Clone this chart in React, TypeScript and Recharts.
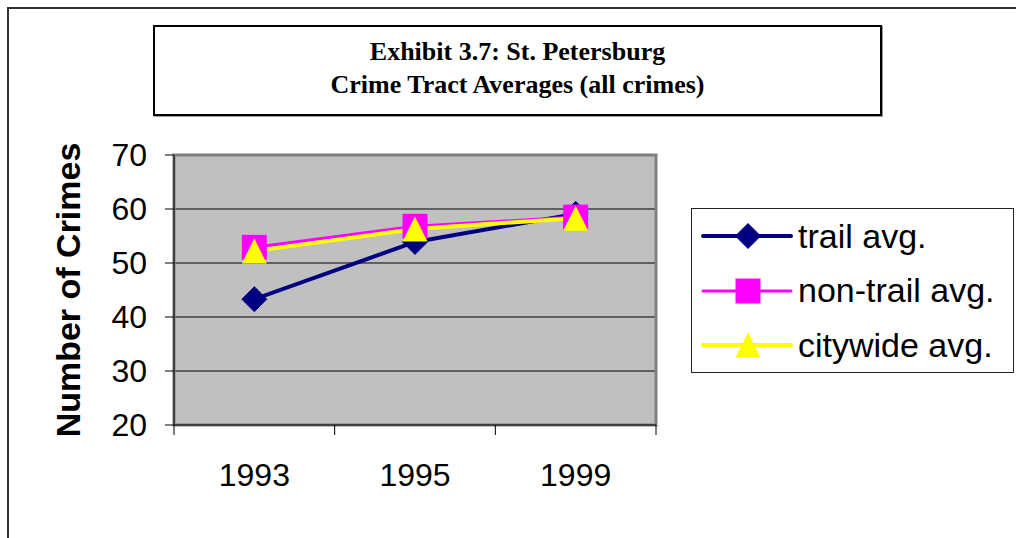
import React from 'react'
import {
  LineChart, Line, XAxis, YAxis, CartesianGrid, ReferenceArea, Legend, Label,
} from 'recharts'

const years       = ['1993', '1995', '1999']
const trailAvg    = [43.3, 53.9, 59.1]
const nonTrailAvg = [52.9, 56.8, 58.5]
const citywideAvg = [52.2, 56.3, 58.3]
const yTicks      = [20, 30, 40, 50, 60, 70]

const series = [
  { key: 'trail',    name: 'trail avg.',     color: '#000080', width: 4, shape: 'diamond' },
  { key: 'nonTrail', name: 'non-trail avg.', color: '#FF00FF', width: 3, shape: 'square' },
  { key: 'citywide', name: 'citywide avg.',  color: '#FFFF00', width: 4, shape: 'triangle' },
]

// x is numeric so tick marks can sit on the category boundaries
const data = years.map((year, i) => ({
  pos:      i + 0.5,
  year,
  trail:    trailAvg[i],
  nonTrail: nonTrailAvg[i],
  citywide: citywideAvg[i],
}))
const xTicks = years.flatMap((_, i) => [i, i + 0.5]).concat(years.length)

const SANS = '"Liberation Sans", Arial, sans-serif'
const SERIF = '"Liberation Serif", "Times New Roman", serif'

function marker(shape: string, cx: number, cy: number, color: string, r = 12.5) {
  if (shape === 'diamond') {
    return <path d={`M${cx},${cy - r}L${cx + r},${cy}L${cx},${cy + r}L${cx - r},${cy}Z`} fill={color} stroke={color} strokeLinejoin="round" strokeWidth={1} />
  }
  if (shape === 'square') {
    return <rect x={cx - r} y={cy - r} width={2 * r} height={2 * r} fill={color} />
  }
  return <path d={`M${cx},${cy - r}L${cx + r},${cy + r}L${cx - r},${cy + r}Z`} fill={color} />
}

const XTick = ({ x, y, payload }: any) => {
  const v = payload.value
  if (Number.isInteger(v)) {
    return <line x1={x} x2={x} y1={y} y2={y + 10} stroke="#000" strokeWidth={1} />
  }
  return (
    <text x={x} y={y + 50} textAnchor="middle" dominantBaseline="central"
      fontSize={32} fontFamily={SANS} fill="#000">
      {years[Math.floor(v)]}
    </text>
  )
}

const YLabel = ({ viewBox }: any) => {
  const x = viewBox.x + 68
  const y = viewBox.y + viewBox.height / 2
  return (
    <text x={x} y={y} transform={`rotate(-90, ${x}, ${y})`} textAnchor="middle"
      dominantBaseline="central" fontSize={34} fontWeight="bold" fontFamily={SANS} fill="#000">
      Number of Crimes
    </text>
  )
}

const LegendBox = () => (
  <div style={{
    width: 323, height: 165, boxSizing: 'border-box', border: '1px solid #222',
    background: '#fff', fontFamily: SANS,
  }}>
    {series.map((s) => (
      <div key={s.key} style={{ height: 54.5, display: 'flex', alignItems: 'center' }}>
        <svg width={106} height={54} style={{ flex: 'none' }}>
          <line x1={11} x2={99} y1={27} y2={27} stroke={s.color} strokeWidth={s.width} strokeLinecap="round" />
          {marker(s.shape, 56, 27, s.color, 12.5)}
        </svg>
        <span style={{ fontSize: 34, color: '#000', whiteSpace: 'nowrap' }}>{s.name}</span>
      </div>
    ))}
  </div>
)

export default function App() {
  return (
    <div style={{
      position: 'absolute', left: 0, top: 0, width: 1016, height: 538,
      overflow: 'hidden', background: '#fff', fontFamily: SANS,
    }}>
      <div style={{
        position: 'absolute', left: 7, top: 7, width: 1100, height: 600,
        border: '2px solid #333',
      }} />
      <div style={{
        position: 'absolute', left: 153, top: 25, width: 729, height: 91,
        boxSizing: 'border-box', border: '2px solid #000', boxShadow: '1px 1px 0 #999',
        textAlign: 'center', fontFamily: SERIF, fontWeight: 'bold', fontSize: 26,
        lineHeight: '33px', paddingTop: 8, color: '#000',
      }}>
        <div>Exhibit 3.7: St. Petersburg</div>
        <div>Crime Tract Averages (all crimes)</div>
      </div>
      <div style={{ position: 'absolute', left: 0, top: 0 }}>
        <LineChart
          width={1016}
          height={538}
          data={data}
          margin={{ top: 155, right: 360, bottom: 53, left: 0 }}
        >
          <CartesianGrid fill="#C0C0C0" fillOpacity={1} stroke="#000" vertical={false} />
          <ReferenceArea y1={20} y2={70} fill="none" stroke="#808080" strokeWidth={3} ifOverflow="visible" />
          <XAxis
            type="number"
            dataKey="pos"
            domain={[0, years.length]}
            ticks={xTicks}
            interval={0}
            tick={XTick}
            tickLine={false}
            tickSize={0}
            tickMargin={0}
            height={60}
            axisLine={{ stroke: '#000' }}
          />
          <YAxis
            type="number"
            domain={[20, 70]}
            ticks={yTicks}
            interval={0}
            width={174}
            tickSize={9}
            tickMargin={18}
            tick={{ fontSize: 32, fontFamily: SANS, fill: '#000' }}
            axisLine={{ stroke: '#000' }}
            tickLine={{ stroke: '#000' }}
          >
            <Label content={YLabel} />
          </YAxis>
          <Legend
            layout="vertical"
            align="center"
            verticalAlign="middle"
            wrapperStyle={{ left: 691, top: 208, width: 323, height: 165 }}
            content={LegendBox}
          />
          {series.map((s) => (
            <Line
              key={s.key}
              dataKey={s.key}
              name={s.name}
              stroke={s.color}
              strokeWidth={s.width}
              isAnimationActive={false}
              activeDot={false}
              dot={(p: any) => (
                <g key={`${s.key}-${p.index}`}>{marker(s.shape, p.cx, p.cy, s.color)}</g>
              )}
            />
          ))}
        </LineChart>
      </div>
    </div>
  )
}
